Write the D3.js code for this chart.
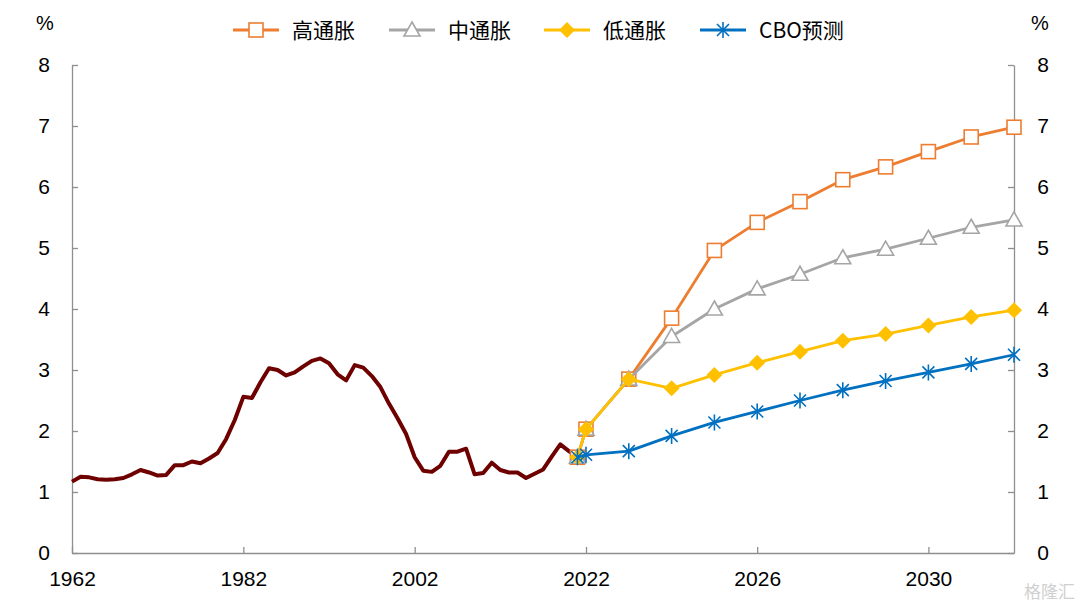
<!DOCTYPE html>
<html>
<head>
<meta charset="utf-8">
<script src="https://cdn.jsdelivr.net/npm/d3@7"></script>
<style>
  body { margin: 0; background: #fff; }
  svg text { font-family: "Liberation Sans", Arial, "Noto Sans CJK SC", sans-serif; fill: #000; }
</style>
</head>
<body>
<div id="container"></div>
<script>
// historical series, 1962-2021
const histStart = 1962;
const histValues = [
  1.17, 1.25, 1.24, 1.21, 1.20, 1.21, 1.23, 1.29, 1.36, 1.32,
  1.27, 1.28, 1.44, 1.44, 1.50, 1.47, 1.55, 1.64, 1.87, 2.18,
  2.56, 2.54, 2.80, 3.03, 3.00, 2.91, 2.96, 3.06, 3.15, 3.19,
  3.11, 2.93, 2.83, 3.08, 3.04, 2.90, 2.72, 2.45, 2.21, 1.95,
  1.57, 1.35, 1.33, 1.43, 1.66, 1.66, 1.71, 1.29, 1.31, 1.48,
  1.36, 1.32, 1.32, 1.23, 1.30, 1.37, 1.58, 1.78, 1.67, 1.57
];

// projections, 2021-2032
const projYears = [2021, 2022, 2023, 2024, 2025, 2026, 2027, 2028, 2029, 2030, 2031, 2032];
const highValues = [1.57, 2.03, 2.85, 3.85, 4.96, 5.42, 5.76, 6.12, 6.33, 6.58, 6.82, 6.98];
const midValues  = [1.57, 2.03, 2.85, 3.55, 4.00, 4.33, 4.57, 4.84, 4.98, 5.16, 5.34, 5.46];
const lowValues  = [1.57, 2.03, 2.85, 2.70, 2.92, 3.12, 3.30, 3.48, 3.59, 3.73, 3.87, 3.98];
const cboValues  = [1.57, 1.61, 1.67, 1.92, 2.14, 2.32, 2.50, 2.67, 2.82, 2.96, 3.10, 3.25];

const seriesNames = ["高通胀", "中通胀", "低通胀", "CBO预测"];
const xTicks = [1962, 1982, 2002, 2022, 2026, 2030];
const yTicks = [0, 1, 2, 3, 4, 5, 6, 7, 8];

const width = 1080, height = 608;
const plotLeft = 72, plotRight = 1014, plotTop = 65, plotBottom = 553;

const svg = d3.select("#container").append("svg")
  .attr("width", width).attr("height", height);

// historical years are packed 5x tighter than the projection years
const x = d3.scaleLinear().domain([1962, 2022, 2032]).range([plotLeft, 586, plotRight]);
const y = d3.scaleLinear().domain([0, 8]).range([plotBottom, plotTop]);

const axisColor = "#8f8f8f";

// axes
const gx = svg.append("g").attr("transform", `translate(0,${plotBottom})`)
  .call(d3.axisBottom(x).tickValues(xTicks).tickFormat(d3.format("d")).tickSizeInner(-6).tickSizeOuter(0).tickPadding(18));
const gyl = svg.append("g").attr("transform", `translate(${plotLeft},0)`)
  .call(d3.axisLeft(y).tickValues(yTicks).tickSizeInner(-6).tickSizeOuter(0).tickPadding(20));
const gyr = svg.append("g").attr("transform", `translate(${plotRight},0)`)
  .call(d3.axisRight(y).tickValues(yTicks).tickSizeInner(-6).tickSizeOuter(0).tickPadding(20));

[gx, gyl, gyr].forEach((g) => {
  g.select(".domain").attr("stroke", axisColor).attr("stroke-width", 1.3);
  g.selectAll(".tick line").attr("stroke", axisColor).attr("stroke-width", 1.3);
  g.selectAll(".tick text").style("font-size", "21px").attr("fill", "#000");
});
gyl.selectAll(".tick text").attr("text-anchor", "middle").attr("x", -28);
gyr.selectAll(".tick text").attr("text-anchor", "middle").attr("x", 29);
gx.selectAll(".tick text").attr("dy", "0.71em");

svg.append("text").attr("x", 45).attr("y", 30).attr("text-anchor", "middle")
  .style("font-size", "20px").text("%");
svg.append("text").attr("x", 1040).attr("y", 30).attr("text-anchor", "middle")
  .style("font-size", "20px").text("%");

// historical line
const histData = histValues.map((v, i) => ({ year: histStart + i, value: v }));
const line = d3.line().x((d) => x(d.year)).y((d) => y(d.value));

svg.append("path").datum(histData)
  .attr("fill", "none").attr("stroke", "#6e0000").attr("stroke-width", 4)
  .attr("stroke-linejoin", "round")
  .attr("d", line);

// marker drawers
const markers = {
  square: (g, c) => g.append("rect").attr("x", -7).attr("y", -7).attr("width", 14).attr("height", 14)
    .attr("fill", "#fff").attr("stroke", c).attr("stroke-width", 1.6),
  triangle: (g, c) => g.append("path").attr("d", "M0,-8L8,6L-8,6Z")
    .attr("fill", "#fff").attr("stroke", c).attr("stroke-width", 1.6),
  diamond: (g, c) => g.append("path").attr("d", "M0,-8L8,0L0,8L-8,0Z").attr("fill", c),
  star: (g, c) => g.append("path").attr("d", "M0,-8V8M-6,-6L6,6M-6,6L6,-6")
    .attr("stroke", c).attr("stroke-width", 1.6).attr("fill", "none")
};

const series = [
  { name: seriesNames[0], values: highValues, color: "#ed7d31", marker: "square" },
  { name: seriesNames[1], values: midValues, color: "#a5a5a5", marker: "triangle" },
  { name: seriesNames[2], values: lowValues, color: "#ffc000", marker: "diamond" },
  { name: seriesNames[3], values: cboValues, color: "#0070c0", marker: "star" }
];

series.forEach((s) => {
  const data = s.values.map((v, i) => ({ year: projYears[i], value: v }));
  const g = svg.append("g");
  g.append("path").datum(data)
    .attr("fill", "none").attr("stroke", s.color).attr("stroke-width", 2.8)
    .attr("stroke-linejoin", "round")
    .attr("d", line);
  g.selectAll(".pt").data(data).enter().append("g")
    .attr("transform", (d) => `translate(${x(d.year)},${y(d.value)})`)
    .each(function () { markers[s.marker](d3.select(this), s.color); });
});

// legend
const legendX = [233, 389, 544, 700];
const legend = svg.append("g");
series.forEach((s, i) => {
  const lg = legend.append("g").attr("transform", `translate(${legendX[i]},30)`);
  lg.append("line").attr("x1", 0).attr("x2", 46).attr("stroke", s.color).attr("stroke-width", 2.8);
  markers[s.marker](lg.append("g").attr("transform", "translate(23,0)"), s.color);
  lg.append("text").attr("x", 59).attr("y", 8).style("font-size", "21px")
    .style("font-family", "'Noto Sans CJK SC', 'Liberation Sans', sans-serif")
    .text(s.name);
});

// watermark
svg.append("text").attr("x", 1075).attr("y", 598).attr("text-anchor", "end")
  .style("font-size", "17px").style("font-family", "'Noto Sans CJK SC', sans-serif")
  .style("fill", "#d0d0d0").text("格隆汇");
</script>
</body>
</html>
